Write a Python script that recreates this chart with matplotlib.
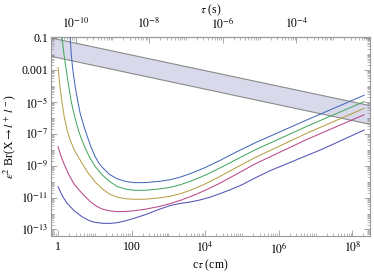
import numpy as np
import matplotlib
matplotlib.use("Agg")
import matplotlib.pyplot as plt
from matplotlib.ticker import FixedLocator, LogLocator, NullFormatter, FuncFormatter

plt.rcParams['font.family'] = ['Liberation Serif', 'DejaVu Serif']
plt.rcParams['mathtext.fontset'] = 'stix'

C_LIGHT = 3e10  # cm/s

# log10(c tau / cm), log10(eps^2 Br)
blue_x = [0.33, 0.36, 0.40, 0.47, 0.54, 0.60, 0.70, 0.80, 0.90, 1.00, 1.10, 1.20, 1.40, 1.60, 1.85,
          2.10, 2.40, 2.77, 3.05, 3.32, 3.60, 4.00, 4.40, 4.80, 5.35, 6.80, 8.32]
blue_y = [-1.0, -2.0, -2.95, -4.1, -5.0, -5.7, -6.5, -7.2, -7.85, -8.4, -8.8, -9.1, -9.55, -9.82, -10.0,
          -10.07, -10.06, -9.98, -9.88, -9.72, -9.5, -9.12, -8.68, -8.2, -7.58, -6.1, -4.59]

green_x = [0.11, 0.16, 0.22, 0.29, 0.36, 0.46, 0.57, 0.70, 0.85, 1.01, 1.20, 1.40, 1.60, 1.85,
           2.10, 2.40, 2.77, 3.05, 3.32, 3.60, 4.00, 4.40, 4.80, 5.35, 6.80, 8.32]
green_y = [-1.0, -2.0, -2.96, -4.0, -5.0, -6.0, -6.9, -7.7, -8.45, -9.05, -9.58, -9.98, -10.3, -10.48,
           -10.55, -10.54, -10.46, -10.36, -10.2, -9.98, -9.6, -9.15, -8.67, -8.02, -6.5, -4.99]

yellow_x = [0.0, 0.05, 0.11, 0.17, 0.245, 0.33, 0.45, 0.55, 0.65, 0.80, 1.00, 1.20, 1.40, 1.60, 1.85,
            2.10, 2.40, 2.77, 3.05, 3.32, 3.60, 4.00, 4.40, 4.80, 5.35, 6.80, 8.32]
yellow_y = [-2.86, -4.0, -5.06, -5.95, -6.75, -7.4, -8.05, -8.45, -8.84, -9.4, -10.0, -10.45, -10.78, -10.97, -11.08,
            -11.11, -11.1, -11.02, -10.92, -10.76, -10.54, -10.15, -9.68, -9.18, -8.5, -6.93, -5.41]

magenta_x = [0.0, 0.08, 0.155, 0.30, 0.45, 0.60, 0.742, 0.90, 1.05, 1.20, 1.40, 1.60, 1.85,
             2.10, 2.40, 2.77, 3.05, 3.32, 3.60, 4.00, 4.40, 4.80, 5.35, 6.80, 8.32]
magenta_y = [-7.82, -8.4, -8.84, -9.6, -10.2, -10.6, -10.95, -11.3, -11.55, -11.72, -11.83, -11.88, -11.87,
             -11.82, -11.72, -11.55, -11.38, -11.18, -10.94, -10.55, -10.1, -9.6, -8.9, -7.32, -5.81]

purple_x = [0.0, 0.12, 0.245, 0.45, 0.652, 0.85, 1.0, 1.2, 1.4, 1.6, 1.85, 2.1, 2.4, 2.77, 3.05,
            3.32, 3.59, 3.86, 4.13, 4.4, 4.67, 5.0, 5.35, 5.76, 7.17, 8.32]
purple_y = [-10.32, -10.9, -11.36, -11.85, -12.2, -12.45, -12.55, -12.61, -12.62, -12.58, -12.45, -12.28, -12.05,
            -11.72, -11.5, -11.37, -11.28, -11.15, -10.98, -10.76, -10.52, -10.2, -9.78, -9.32, -7.98, -6.77]

# shaded band (log10 values at the two ends)
band_x = [-0.19, 8.48]
band_hi = [-1.0, -5.24]
band_lo = [-2.15, -6.41]

curves = [
    (purple_x, purple_y, '#5252b8'),
    (magenta_x, magenta_y, '#b8488a'),
    (yellow_x, yellow_y, '#b8a048'),
    (green_x, green_y, '#48a860'),
    (blue_x, blue_y, '#4868b8'),
]

FS = 8.5
GRAY = '#9a9a9a'

fig = plt.figure(figsize=(3.74, 2.73), dpi=100)
ax = fig.add_axes([0.1364, 0.1355, 0.8529, 0.729])

bx = 10 ** np.array(band_x)
ax.fill_between(bx, 10 ** np.array(band_lo), 10 ** np.array(band_hi),
                facecolor='#d9d9ec', edgecolor='none', zorder=1)
ax.plot(bx, 10 ** np.array(band_hi), color='#8a8a8a', lw=0.8, zorder=2)
ax.plot(bx, 10 ** np.array(band_lo), color='#8a8a8a', lw=0.8, zorder=2)

for xs, ys, col in curves:
    ax.plot(10 ** np.array(xs), 10 ** np.array(ys), color=col, lw=0.75, zorder=3)

ax.set_xscale('log')
ax.set_yscale('log')
ax.set_xlim(10 ** -0.19, 10 ** 8.48)
ax.set_ylim(10 ** -13.41, 10 ** -0.94)

xt = [1, 1e2, 1e4, 1e6, 1e8]
xl = ['1', '100', r'$10^{4}$', r'$10^{6}$', r'$10^{8}$']
ax.xaxis.set_major_locator(FixedLocator(xt))
ax.set_xticklabels(xl)
ax.xaxis.set_minor_locator(LogLocator(base=10, subs=np.arange(1, 10), numticks=40))
ax.xaxis.set_minor_formatter(NullFormatter())

yt = [1e-1, 1e-3, 1e-5, 1e-7, 1e-9, 1e-11, 1e-13]
yl = ['0.1', '0.001', r'$10^{-5}$', r'$10^{-7}$', r'$10^{-9}$', r'$10^{-11}$', r'$10^{-13}$']
ax.yaxis.set_major_locator(FixedLocator(yt))
ax.set_yticklabels(yl)
ax.yaxis.set_minor_locator(LogLocator(base=10, subs=np.arange(1, 10), numticks=40))
ax.yaxis.set_minor_formatter(NullFormatter())

for s in ax.spines.values():
    s.set_color(GRAY)
    s.set_linewidth(0.8)

ax.tick_params(which='both', direction='in', top=False, right=True, color=GRAY, labelsize=FS)
ax.tick_params(axis='x', pad=3.5)
ax.tick_params(axis='y', pad=2)
ax.tick_params(which='major', length=4, width=0.6)
ax.tick_params(which='minor', length=2, width=0.5)

sec = ax.secondary_xaxis('top', functions=(lambda x: x / C_LIGHT, lambda t: t * C_LIGHT))
sec.xaxis.set_major_locator(FixedLocator([1e-10, 1e-8, 1e-6, 1e-4]))
sec.xaxis.set_major_formatter(FuncFormatter(lambda v, p: r'$10^{%d}$' % round(np.log10(v))))
sec.xaxis.set_minor_locator(LogLocator(base=10, subs=np.arange(1, 10), numticks=40))
sec.xaxis.set_minor_formatter(NullFormatter())
sec.tick_params(which='both', direction='in', color=GRAY, labelsize=FS, pad=4)
sec.tick_params(which='major', length=4, width=0.6)
sec.tick_params(which='minor', length=2, width=0.5)
sec.spines['top'].set_color(GRAY)
sec.set_xlabel(r'$\tau$ (s)', fontsize=FS, labelpad=2)

ax.set_xlabel(r'c$\tau$ (cm)', fontsize=FS, labelpad=1.5)
ax.set_ylabel(r'$\epsilon^2$ Br(X$\rightarrow l^+\, l^-$)', fontsize=FS, labelpad=2)

fig.savefig('out.png', dpi=100)
